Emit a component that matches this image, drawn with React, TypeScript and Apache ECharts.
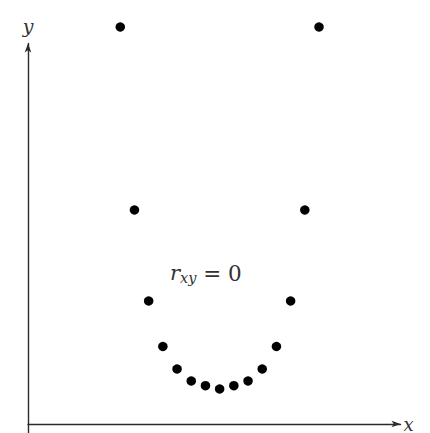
import React, { useEffect, useRef } from "react";
import * as echarts from "echarts";

// Horizontal positions of the points (axis units), left to right
const xValues = [6.5, 7.5, 8.5, 9.5, 10.5, 11.5, 12.5, 13.5, 14.5, 15.5, 16.5, 17.5, 18.5, 19.5, 20.5];
// Heights of the points above the x axis
const yValues = [39.7, 21.4, 12.3, 7.75, 5.5, 4.3, 3.83, 3.5, 3.83, 4.3, 5.5, 7.75, 12.3, 21.4, 39.7];
const xLabel = "x";
const yLabel = "y";

export default function App() {
  const ref = useRef<HTMLDivElement>(null);

  useEffect(() => {
    if (!ref.current) return;
    const chart = echarts.init(ref.current, null, { renderer: "svg" });
    const points = xValues.map((x, i) => [x, yValues[i]]);
    const axisColor = "#2b2b2b";
    const labelFont = "'DejaVu Serif', 'Liberation Serif', serif";

    chart.setOption({
      animation: false,
      backgroundColor: "#ffffff",
      grid: { left: 28, right: 29.5, top: 43.5, bottom: 0, containLabel: false },
      xAxis: {
        type: "value",
        min: 0,
        max: 26.24,
        name: xLabel,
        nameLocation: "end",
        nameGap: 3,
        nameTextStyle: {
          fontFamily: labelFont,
          fontStyle: "italic",
          fontSize: 18,
          color: "#333",
          verticalAlign: "middle",
          padding: [0, 0, 2, 0],
        },
        axisLine: {
          onZero: true,
          symbol: ["none", "arrow"],
          symbolSize: [5, 9],
          lineStyle: { color: axisColor, width: 1.4 },
        },
        axisTick: { show: false },
        axisLabel: { show: false },
        splitLine: { show: false },
      },
      yAxis: {
        type: "value",
        min: -0.9,
        max: 38.05,
        name: yLabel,
        nameLocation: "end",
        nameGap: 8,
        nameTextStyle: {
          fontFamily: labelFont,
          fontStyle: "italic",
          fontSize: 19,
          color: "#333",
          align: "center",
        },
        axisLine: {
          onZero: true,
          symbol: ["none", "arrow"],
          symbolSize: [5, 9],
          lineStyle: { color: axisColor, width: 1.4 },
        },
        axisTick: { show: false },
        axisLabel: { show: false },
        splitLine: { show: false },
      },
      graphic: [
        {
          type: "text",
          left: 170,
          top: 262,
          style: {
            text: "{r|r}{s|xy}{e| = 0}",
            rich: {
              r: { fontFamily: labelFont, fontStyle: "italic", fontSize: 21, fill: "#333" },
              s: {
                fontFamily: labelFont,
                fontStyle: "italic",
                fontSize: 14.5,
                fill: "#333",
                padding: [9, 0, 0, 0],
              },
              e: { fontFamily: labelFont, fontSize: 21.5, fill: "#333" },
            },
          },
        },
      ],
      series: [
        {
          type: "scatter",
          data: points,
          symbol: "circle",
          symbolSize: 9.5,
          clip: false,
          itemStyle: { color: "#000000", opacity: 1 },
        },
      ],
    });

    return () => chart.dispose();
  }, []);

  return (
    <div
      ref={ref}
      style={{ position: "fixed", left: 0, top: 0, width: 430, height: 433, background: "#fff" }}
    />
  );
}
